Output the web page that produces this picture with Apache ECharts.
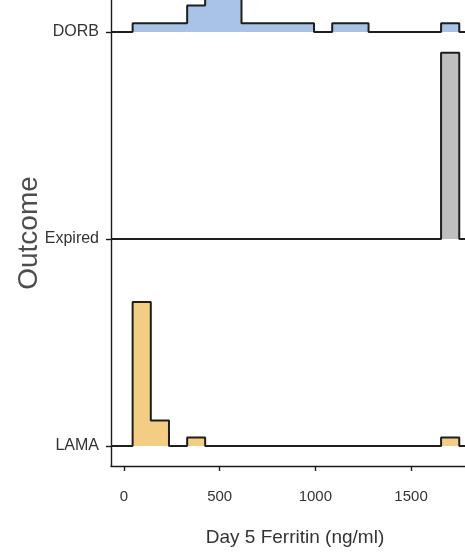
<!DOCTYPE html>
<html>
<head>
<meta charset="utf-8">
<script src="https://cdn.jsdelivr.net/npm/echarts@6/dist/echarts.min.js"></script>
<style>
html,body{margin:0;padding:0;background:#fff;}
#chart{width:465px;height:557px;}
</style>
</head>
<body>
<div id="chart"></div>
<script>
// Groups from bottom to top (baseline position = index + 1)
const categories = ['LAMA', 'Expired', 'DORB'];
// Histogram bin edges (ng/ml)
const binEdges = [45, 140, 235, 330, 424, 519, 614, 709, 804, 898, 993, 1088, 1183, 1278, 1372, 1467, 1562, 1657, 1752];
// Counts per bin for each group
const lamaCounts    = [17, 3, 0, 1, 0, 0, 0, 0, 0, 0, 0, 0, 0, 0, 0, 0, 0, 1];
const expiredCounts = [0, 0, 0, 0, 0, 0, 0, 0, 0, 0, 0, 0, 0, 0, 0, 0, 0, 1];
const dorbCounts    = [1, 1, 1, 3, 4, 4, 1, 1, 1, 1, 0, 1, 1, 0, 0, 0, 0, 1];
const xTicks = [0, 500, 1000, 1500];
const xTitle = 'Day 5 Ferritin (ng/ml)';
const yTitle = 'Outcome';

const xMin = -68, xMax = 1782;
const yMin = 0.903, yMax = 3.1546;
const ridgeScale = 0.9;

const sans = "'Liberation Sans', Arial, sans-serif";

function ridge(name, counts, base, fill) {
  const total = counts.reduce((a, b) => a + b, 0);
  const pts = [[xMin, base]];
  counts.forEach((c, i) => pts.push([binEdges[i], base + ridgeScale * c / total]));
  pts.push([binEdges[counts.length], base]);
  pts.push([xMax, base]);
  return {
    name: name,
    type: 'line',
    step: 'end',
    data: pts,
    symbol: 'none',
    clip: true,
    lineStyle: { color: '#1e1e1e', width: 2 },
    areaStyle: { color: fill, opacity: 1, origin: base },
    silent: true
  };
}

const chart = echarts.init(document.getElementById('chart'));
chart.setOption({
  animation: false,
  backgroundColor: '#ffffff',
  grid: { left: 111, right: 0, top: 0, bottom: 91, containLabel: false, outerBoundsMode: 'none' },
  xAxis: {
    type: 'value',
    min: xMin,
    max: xMax,
    name: xTitle,
    nameLocation: 'middle',
    nameGap: 62,
    nameMoveOverlap: false,
    nameTextStyle: { fontFamily: sans, fontSize: 19, color: '#333333', padding: [0, 0, 0, 14] },
    axisLine: { show: true, onZero: false, lineStyle: { color: '#1a1a1a', width: 1.4 } },
    axisTick: { show: true, length: 5, lineStyle: { color: '#1a1a1a', width: 1.4 }, customValues: xTicks },
    axisLabel: { customValues: xTicks, margin: 23, fontFamily: sans, fontSize: 15, color: '#333333', formatter: v => String(v) },
    splitLine: { show: false }
  },
  yAxis: {
    type: 'value',
    min: yMin,
    max: yMax,
    name: yTitle,
    nameLocation: 'middle',
    nameRotate: 90,
    nameGap: 68,
    nameMoveOverlap: false,
    nameTextStyle: { fontFamily: sans, fontSize: 28, color: '#4d4d4d' },
    axisLine: { show: true, onZero: false, lineStyle: { color: '#1a1a1a', width: 1.4 } },
    axisTick: { show: true, length: 5, lineStyle: { color: '#1a1a1a', width: 1.4 }, customValues: [1, 2, 3] },
    axisLabel: {
      customValues: [1, 2, 3],
      margin: 12,
      fontFamily: sans,
      fontSize: 16,
      color: '#333333',
      formatter: v => categories[Math.round(v) - 1]
    },
    splitLine: { show: false }
  },
  series: [
    ridge('DORB', dorbCounts, 3, '#a8c3e6'),
    ridge('Expired', expiredCounts, 2, '#bfbfbf'),
    ridge('LAMA', lamaCounts, 1, '#f3cd84')
  ]
});
</script>
</body>
</html>
